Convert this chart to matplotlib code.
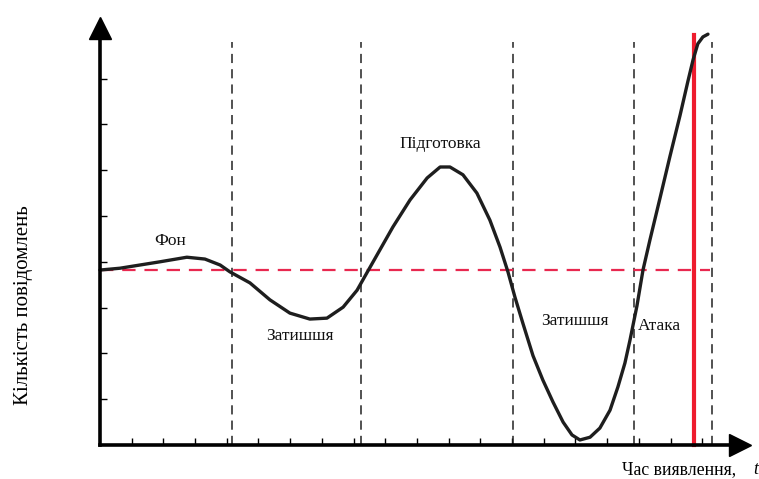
import numpy as np
import matplotlib
matplotlib.use("Agg")
import matplotlib.pyplot as plt

# curve, in tick units (x: time ticks, y: count ticks)
curve_t = [0.0, 0.63, 1.26, 1.89, 2.74, 3.31, 3.79, 4.10, 4.73, 5.36, 5.99, 6.62,
           7.16, 7.67, 8.11, 8.42, 8.83, 9.24, 9.78, 10.32, 10.73, 11.04, 11.45,
           11.89, 12.30, 12.62, 12.87, 13.09, 13.34, 13.66, 13.97, 14.29, 14.61,
           14.89, 15.14, 15.46, 15.77, 16.09, 16.34, 16.56, 16.72, 16.94, 17.13,
           17.35, 17.67, 17.98, 18.30, 18.55, 18.71, 18.86, 19.02, 19.18]
curve_n = [3.82, 3.86, 3.93, 4.00, 4.10, 4.06, 3.93, 3.78, 3.54, 3.17, 2.88, 2.75,
           2.77, 3.01, 3.38, 3.76, 4.26, 4.76, 5.35, 5.83, 6.07, 6.07, 5.90,
           5.50, 4.91, 4.32, 3.78, 3.23, 2.66, 1.95, 1.42, 0.94, 0.50,
           0.22, 0.11, 0.17, 0.37, 0.76, 1.27, 1.79, 2.29, 3.04, 3.82,
           4.48, 5.40, 6.30, 7.20, 7.95, 8.41, 8.76, 8.91, 8.97]

phase_lines = [4.16, 8.23, 13.03, 16.85, 19.3]
attack_t = 18.74
baseline = 3.82

labels = ["Фон", "Затишшя", "Підготовка", "Затишшя", "Атака"]
label_t = [2.2, 6.3, 10.72, 14.99, 17.66]
label_n = [4.46, 2.39, 6.57, 2.70, 2.60]

fig = plt.figure(figsize=(7.59, 4.79), dpi=100)
ax = fig.add_axes([0, 0, 1, 1])
ax.set_xlim(-3.155, 20.79)
ax.set_ylim(-0.742, 9.716)

plt.rcParams['font.family'] = ['Liberation Serif', 'DejaVu Serif']

for s in ["top", "right"]:
    ax.spines[s].set_visible(False)
ax.spines["left"].set_position(("data", 0))
ax.spines["bottom"].set_position(("data", 0))
ax.spines["left"].set_bounds(0, 9.0)
ax.spines["bottom"].set_bounds(0, 20.0)
ax.spines["left"].set_linewidth(2.6)
ax.spines["bottom"].set_linewidth(2.6)
ax.set_xticks(range(1, 21))
ax.set_yticks(range(1, 9))
ax.tick_params(direction="in", length=5, width=1.0, labelbottom=False, labelleft=False)

# arrow heads
ax.plot([0], [9.1], marker="^", markersize=16, color="black", clip_on=False)
ax.plot([20.2], [0], marker=">", markersize=16, color="black", clip_on=False)

for t in phase_lines:
    ax.plot([t, t], [0, 8.8], color="#222222", lw=1.1, ls=(0, (6, 4)))

ax.plot([0, 19.25], [baseline, baseline], color="#e8284f", lw=1.6, ls=(0, (6, 4)))
ax.plot([attack_t, attack_t], [0, 8.95], color="#ee1c2e", lw=3.0)

ax.plot(curve_t, curve_n, color="#1e1e1e", lw=2.4,
        solid_capstyle="round", solid_joinstyle="round")

for txt, t, n in zip(labels, label_t, label_n):
    ax.text(t, n, txt, fontsize=12.5, ha="center", va="center", color="#111111")

ax.text(-2.4, 3.06, "Кількість повідомлень", rotation=90, fontsize=15,
        ha="center", va="center")
ax.text(16.46, -0.53, "Час виявлення, ", fontsize=12.8, ha="left", va="center")
ax.text(20.62, -0.53, "t", fontsize=12.8, ha="left", va="center", style="italic")

fig.savefig("out.png", dpi=100)
